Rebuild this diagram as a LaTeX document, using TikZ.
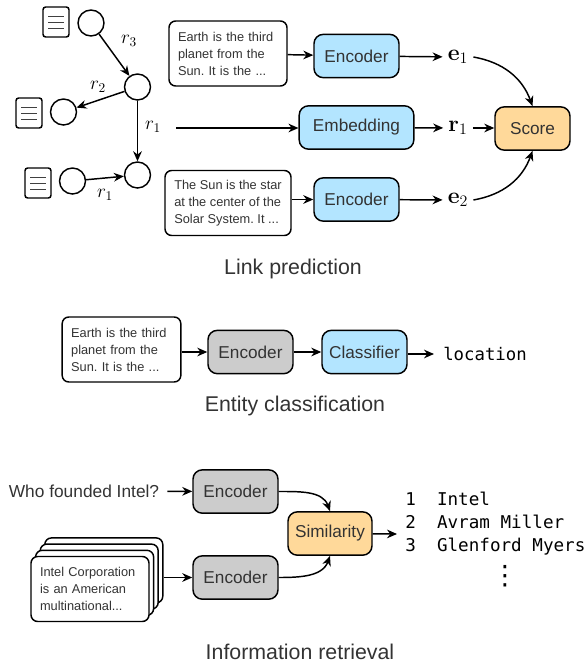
\documentclass[tikz,border=0pt]{standalone}
\usepackage[no-math]{fontspec}
\setmainfont{Liberation Sans}
\setmonofont{DejaVu Sans Mono}
\newfontfamily\dotsfont{DejaVu Sans}
\usetikzlibrary{arrows.meta,calc}
\definecolor{boxblue}{HTML}{B3E5FF}
\definecolor{boxorange}{HTML}{FFD99A}
\definecolor{boxgray}{HTML}{CCCCCC}
\frenchspacing
\tikzset{
    flow/.style={line width=1.1pt,-{Stealth[length=7.5pt,width=6.5pt]}},
    entity/.style={draw,circle,line width=1.1pt,minimum size=19.5pt,inner sep=0pt},
    docicon/.style={draw,rounded corners=2pt,line width=1.1pt,minimum width=19.5pt,minimum height=22.5pt,inner sep=0pt},
    passage/.style={draw,fill=white,rounded corners=5pt,line width=1.1pt,align=left,inner xsep=6.75pt,inner ysep=0pt,minimum height=48.75pt,
        text=black!80,font=\fontsize{9.6}{12.75}\selectfont},
    block/.style={draw,rounded corners=7pt,line width=1.1pt,minimum width=63.75pt,minimum height=32.5pt,inner sep=0pt,
        text=black!80,font=\fontsize{12.9}{15}\selectfont},
    sym/.style={inner sep=3.75pt,font=\fontsize{17.28}{20}\selectfont},
    caption/.style={text=black!80,font=\fontsize{16}{19}\selectfont},
    rel/.style={inner sep=0pt,font=\fontsize{14.4}{16}\selectfont}
}
\begin{document}
\begin{tikzpicture}[x=0.75pt,y=0.75pt]
    \useasboundingbox (0,0) rectangle (587,-664);

    % link prediction: graph
    \node[docicon] (doca) at (56,-22) {};
    \node[docicon] (docb) at (29,-113) {};
    \node[docicon] (docc) at (38,-183) {};
    \foreach \n in {doca,docb,docc}
        \foreach \dy in {-6,0,6}
            \draw[line width=0.7pt,black!75] ($(\n.center)+(-8,\dy)$) -- ($(\n.center)+(8,\dy)$);
    \node[entity] (enta) at (91,-23) {};
    \node[entity] (entb) at (137.5,-87) {};
    \node[entity] (entc) at (63.5,-112) {};
    \node[entity] (entd) at (137.5,-175) {};
    \node[entity] (ente) at (72.5,-181) {};
    \draw[flow] (enta) -- (entb);
    \draw[flow] (entb) -- (entc);
    \draw[flow] (entb) -- (entd);
    \draw[flow] (ente) -- (entd);
    \node[rel] (rela) at (129,-41) {$r_3$};
    \node[rel] (relb) at (98,-87) {$r_2$};
    \node[rel] (relc) at (153,-127) {$r_1$};
    \node[rel] (reld) at (105,-195) {$r_1$};

    % link prediction: model
    \node[passage,text width=75pt] (texta) at (228,-53.5) {Earth is the third\\planet from the\\Sun. It is the ...};
    \node[passage,minimum width=94.5pt,inner xsep=0pt] (textb) at (228,-203) {The Sun is the star\\at the center of the\\Solar System. It ...};
    \node[block,fill=boxblue] (enca) at (356.5,-56) {Encoder};
    \node[block,fill=boxblue,minimum width=86pt] (embed) at (356.5,-127.5) {Embedding};
    \node[block,fill=boxblue] (encb) at (356.5,-199.5) {Encoder};
    \node[sym] (ea) at (458,-57) {$\mathbf{e}_1$};
    \node[sym] (ra) at (458,-128) {$\mathbf{r}_1$};
    \node[sym] (eb) at (458,-200) {$\mathbf{e}_2$};
    \node[block,fill=boxorange,minimum width=56.25pt] (score) at (532.5,-128.5) {Score};
    \coordinate (relfree) at (176,-128);
    \draw[flow] (texta) -- (enca);
    \draw[flow] (relfree) -- (relfree -| embed.west);
    \draw[flow] (textb.east |- encb) -- (encb);
    \draw[flow] (enca) -- (ea);
    \draw[flow] (embed) -- (ra);
    \draw[flow] (encb) -- (eb);
    \draw[flow] (ra) -- (ra -| score.west);
    \draw[flow] (ea.east) to[out=-10,in=110] (score.north);
    \draw[flow] (eb.east) to[out=10,in=-110] (score.south);
    \node[caption] (linkcap) at (293,-269) {Link prediction};

    % entity classification
    \node[passage,text width=75.5pt] (textc) at (121.5,-349.5) {Earth is the third\\planet from the\\Sun. It is the ...};
    \node[block,fill=boxgray] (encc) at (250.5,-352) {Encoder};
    \node[block,fill=boxblue] (classif) at (364.5,-352) {Classifier};
    \node[inner sep=6.75pt,font=\fontsize{13}{15}\ttfamily] (loc) at (485,-354) {location};
    \draw[flow] (textc.east |- encc) -- (encc);
    \draw[flow] (encc) -- (classif);
    \draw[flow] (classif.east |- loc) -- (loc);
    \node[caption] (enticap) at (295,-406) {Entity classification};

    % information retrieval
    \node[inner xsep=6pt,inner ysep=0pt,text=black!80,font=\fontsize{13}{15}\selectfont] (query) at (84,-491) {Who founded Intel?};
    \node[block,fill=boxgray] (encd) at (235.5,-491.5) {Encoder};
    \node[block,fill=boxgray] (ence) at (235.5,-577.5) {Encoder};
    \node[block,fill=boxorange,minimum width=63pt] (simil) at (330,-533.5) {Similarity};
    \foreach \k/\n in {3/stackd,2/stackc,1/stackb}
        \node[passage,text width=75pt] (\n) at ($(90,-589)+(\k*4.6,\k*6.2)$) {\phantom{x}};
    \node[passage,text width=75pt] (stacka) at (90,-589) {Intel Corporation\\is an American\\multinational...};
    \foreach \n/\t/\y in {1/Intel/505,2/Avram Miller/528,3/Glenford Myers/551}
        \node[anchor=base west,inner sep=0pt,font=\fontsize{13.2}{15}\ttfamily] (rank\n) at (405,-\y) {\n~~\t};
    \node[inner sep=0pt,font=\fontsize{20}{22}\dotsfont] (rankdots) at (505,-576) {⋮};
    \coordinate (simfree) at (397,-534);
    \draw[flow] (query) -- (encd);
    \draw[flow] (stackd.east |- ence) -- (ence);
    \draw[flow] (encd.east) to[out=0,in=110] (simil.north);
    \draw[flow] (ence.east) to[out=0,in=-110] (simil.south);
    \draw[flow] (simil) -- (simfree);
    \node[caption] (infocap) at (300,-652) {Information retrieval};
\end{tikzpicture}
\end{document}
